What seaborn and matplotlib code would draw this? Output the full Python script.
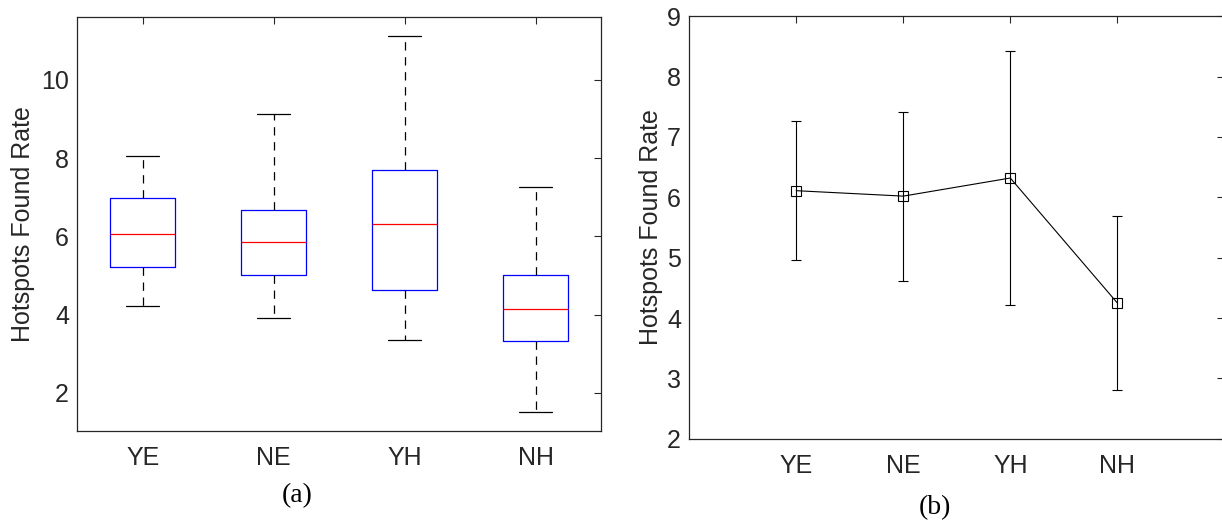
import numpy as np
import matplotlib
matplotlib.use("Agg")
import matplotlib.pyplot as plt
import seaborn as sns

# ---- data ----
groups = ["YE", "NE", "YH", "NH"]
# box plot (panel a) five-number summaries
whisker_low = [4.23, 3.90, 3.36, 1.51]
q1 = [5.22, 5.00, 4.63, 3.32]
median = [6.07, 5.86, 6.32, 4.15]
q3 = [6.98, 6.67, 7.69, 5.00]
whisker_high = [8.06, 9.14, 11.12, 7.27]
# mean +/- error (panel b)
means = [6.11, 6.02, 6.32, 4.25]
errors = [1.15, 1.40, 2.10, 1.44]

sns.set_theme(style="white")
plt.rcParams["font.family"] = ["Liberation Sans", "DejaVu Sans"]
plt.rcParams["lines.scale_dashes"] = False
axcol = "#262626"
FS = 18

fig = plt.figure(figsize=(12.22, 5.22), dpi=100)
W, H = 1222, 522
def axes_px(l, t, r, b):
    return fig.add_axes([l / W, 1 - b / H, (r - l) / W, (b - t) / H])

ax1 = axes_px(77.3, 17.3, 601.0, 430.7)
ax2 = axes_px(689.3, 16.3, 1224.3, 438.7)

pos = np.arange(1, len(groups) + 1)

# ---- panel (a): box plot ----
stats = []
for i, g in enumerate(groups):
    stats.append(dict(label=g, med=median[i], q1=q1[i], q3=q3[i],
                      whislo=whisker_low[i], whishi=whisker_high[i], fliers=[]))
ax1.bxp(stats, positions=pos, widths=0.5, capwidths=0.25, showfliers=False,
        boxprops=dict(color="blue", linewidth=0.9),
        medianprops=dict(color="red", linewidth=0.9),
        whiskerprops=dict(color="black", linewidth=0.9, linestyle=(0, (6, 4.8))),
        capprops=dict(color="black", linewidth=0.9))
ax1.set_xlim(0.5, 4.5)
ax1.set_ylim(1.03, 11.6)
ax1.set_yticks([2, 4, 6, 8, 10])
ax1.set_xticks(pos)
ax1.set_xticklabels(groups)
ax1.set_ylabel("Hotspots Found Rate", fontsize=FS, color=axcol)
ax1.yaxis.set_label_coords(-0.080, 0.5)

# ---- panel (b): mean with error bars ----
sns.lineplot(x=pos, y=means, ax=ax2, color="black", linewidth=0.8,
             marker="s", markersize=6.5, markerfacecolor="none",
             markeredgecolor="black", markeredgewidth=0.8)
ax2.errorbar(pos, means, yerr=errors, fmt="none", ecolor="black",
             elinewidth=0.8, capsize=3.5, capthick=0.8)
ax2.set_xlim(0, 5)
ax2.set_ylim(2, 9)
ax2.set_yticks(range(2, 10))
ax2.set_xticks(pos)
ax2.set_xticklabels(groups)
ax2.set_ylabel("Hotspots Found Rate", fontsize=FS, color=axcol)
ax2.yaxis.set_label_coords(-0.050, 0.5)
ax2.spines["right"].set_visible(False)

for ax in (ax1, ax2):
    for s in ax.spines.values():
        s.set_color(axcol)
        s.set_linewidth(0.9)
    ax.tick_params(axis="both", which="major", direction="in", length=5,
                   width=0.8, color=axcol, labelcolor=axcol, labelsize=FS,
                   top=True, right=True)
    ax.tick_params(axis="x", pad=11)
    ax.tick_params(axis="y", pad=6)
    ax.grid(False)
    ax.set_facecolor("white")

fig.text(297 / W, 1 - 496 / H, "(a)", ha="center", va="center", fontsize=20,
         family=["Liberation Serif", "DejaVu Serif"], color="black")
fig.text(935 / W, 1 - 508 / H, "(b)", ha="center", va="center", fontsize=20,
         family=["Liberation Serif", "DejaVu Serif"], color="black")

fig.savefig("out.png", dpi=100, facecolor="white")
